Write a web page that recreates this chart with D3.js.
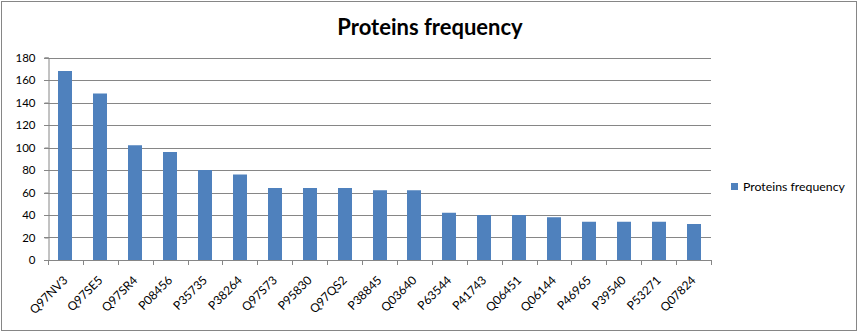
<!DOCTYPE html>
<html><head><meta charset="utf-8">
<script src="https://cdn.jsdelivr.net/npm/d3@7"></script>
<style>body{margin:0;background:#fff;}svg{display:block;font-family:Lato,"Open Sans",sans-serif;}</style>
</head><body>
<svg id="c" width="860" height="333"></svg>
<script>
const categories = ["Q97NV3","Q97SE5","Q97SR4","P08456","P35735","P38264","Q97S73","P95830","Q97QS2","P38845","Q03640","P63544","P41743","Q06451","Q06144","P46965","P39540","P53271","Q07824"];
const values = [168,148,102,96,80,76,64,64,64,62,62,42,40,40,38,34,34,34,32];
const yTicks = [0,20,40,60,80,100,120,140,160,180];
const seriesName = "Proteins frequency";
const title = "Proteins frequency";

const svg = d3.select("#c");
const grey = "#868686";
svg.append("rect").attr("x",1.5).attr("y",1.5).attr("width",855).attr("height",329)
  .attr("fill","#fff").attr("stroke",grey).attr("stroke-width",1);

const L=48, R=711, T=57.5, B=260;
const xb = d3.scaleBand().domain(categories).range([L,R]);
const y = d3.scaleLinear().domain([0,180]).range([B,T]);

// gridlines
svg.append("g").selectAll("line").data(yTicks.slice(1)).join("line")
  .attr("x1",L-4).attr("x2",R).attr("y1",d=>Math.round(y(d))+0.5).attr("y2",d=>Math.round(y(d))+0.5)
  .attr("stroke",grey);

// bars
svg.append("g").selectAll("rect").data(values).join("rect")
  .attr("x",(d,i)=>Math.round(xb(categories[i])+xb.bandwidth()/2-7))
  .attr("width",14)
  .attr("y",d=>y(d)).attr("height",d=>B-y(d)).attr("fill","#4F81BD");

// y axis
const ya = svg.append("g").attr("transform",`translate(${L+0.5},0)`)
  .call(d3.axisLeft(y).tickValues(yTicks).tickSize(4).tickPadding(9));
ya.selectAll("path,line").attr("stroke",grey);
ya.selectAll("text").attr("font-size",11.5).attr("fill","#000").attr("font-family","Lato,'Open Sans',sans-serif");

// x axis line and ticks at band boundaries
svg.append("line").attr("x1",L-4).attr("x2",R+0.5).attr("y1",B+0.5).attr("y2",B+0.5).attr("stroke",grey);
const bounds = categories.map(c=>xb(c)).concat([R]);
svg.append("g").selectAll("line").data(bounds).join("line")
  .attr("x1",d=>Math.round(d)+0.5).attr("x2",d=>Math.round(d)+0.5)
  .attr("y1",B).attr("y2",B+5).attr("stroke",grey);

// x labels
svg.append("g").selectAll("text").data(categories).join("text")
  .attr("transform",d=>`translate(${xb(d)+xb.bandwidth()/2+3},${B+21}) rotate(-45)`)
  .attr("text-anchor","end").attr("font-size",12).attr("fill","#000").text(d=>d);

// title
svg.append("text").attr("x",430).attr("y",35).attr("text-anchor","middle")
  .attr("font-size",22).attr("font-weight","bold").attr("fill","#000").text(title);

// legend
svg.append("rect").attr("x",731).attr("y",183).attr("width",7).attr("height",7).attr("fill","#4F81BD");
svg.append("text").attr("x",743).attr("y",190.5).attr("font-size",12.3).attr("fill","#000").text(seriesName);
</script>
</body></html>
